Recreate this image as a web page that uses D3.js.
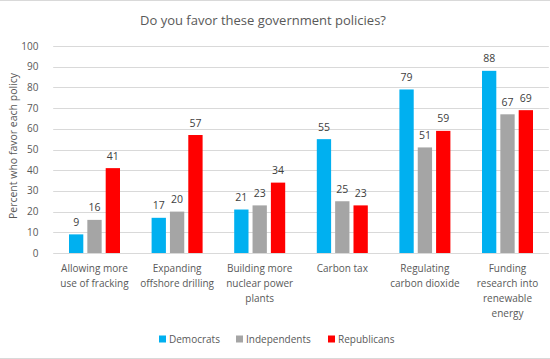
<!DOCTYPE html>
<html><head><meta charset="utf-8">
<script src="https://cdn.jsdelivr.net/npm/d3@7"></script>
<style>body{margin:0;background:#fff}svg{display:block;font-family:"Open Sans",sans-serif}</style>
</head><body><svg id="c" width="550" height="359"></svg>
<script>
const categories = ["Allowing more use of fracking","Expanding offshore drilling","Building more nuclear power plants","Carbon tax","Regulating carbon dioxide","Funding research into renewable energy"];
const categoryLines = [["Allowing more","use of fracking"],["Expanding","offshore drilling"],["Building more","nuclear power","plants"],["Carbon tax"],["Regulating","carbon dioxide"],["Funding","research into","renewable","energy"]];
const seriesNames = ["Democrats","Independents","Republicans"];
const democrats = [9,17,21,55,79,88];
const independents = [16,20,23,25,51,67];
const republicans = [41,57,34,23,59,69];
const yTicks = [0,10,20,30,40,50,60,70,80,90,100];
const colors = ["#00B0F0","#A5A5A5","#FF0000"];
const seriesValues = [democrats, independents, republicans];

const svg = d3.select("#c");
const W = 550, H = 359;
const pLeft = 53.2, pRight = 548.8, pTop = 46, pBottom = 253;

svg.append("line").attr("x1",0).attr("x2",W).attr("y1",0.5).attr("y2",0.5).attr("stroke","#D9D9D9");
svg.append("line").attr("x1",0).attr("x2",W).attr("y1",358.5).attr("y2",358.5).attr("stroke","#D9D9D9");

const x = d3.scaleBand().domain(categories).range([pLeft,pRight]).paddingInner(0).paddingOuter(0);
const bw = x.bandwidth();
const xs = d3.scaleBand().domain(seriesNames).range([(bw-51)/2,(bw+51)/2]).paddingInner(0.22).paddingOuter(0);
const y = d3.scaleLinear().domain([0,100]).range([pBottom,pTop]);

// gridlines
svg.append("g").selectAll("line").data(yTicks).join("line")
  .attr("x1",pLeft).attr("x2",pRight)
  .attr("y1",d=>Math.round(y(d))+0.5).attr("y2",d=>Math.round(y(d))+0.5)
  .attr("stroke","#D9D9D9").attr("stroke-width",1);

// y tick labels
svg.append("g").selectAll("text").data(yTicks).join("text")
  .attr("x",38.5).attr("y",d=>y(d)).attr("dy","0.35em")
  .attr("text-anchor","end").attr("font-size",10).attr("fill","#595959")
  .text(d=>d);

// bars
const groups = svg.append("g").selectAll("g").data(categories).join("g")
  .attr("transform",d=>`translate(${x(d)},0)`);
seriesNames.forEach((s,si)=>{
  groups.append("rect")
    .attr("x",xs(s)).attr("width",xs.bandwidth())
    .attr("y",(d,i)=>y(seriesValues[si][i]))
    .attr("height",(d,i)=>y(0)-y(seriesValues[si][i]))
    .attr("fill",colors[si]);
  groups.append("text")
    .attr("x",xs(s)+xs.bandwidth()/2)
    .attr("y",(d,i)=>y(seriesValues[si][i])-8.5)
    .attr("text-anchor","middle").attr("font-size",10.5).attr("fill","#404040")
    .text((d,i)=>seriesValues[si][i]);
});

// category labels
groups.each(function(d,i){
  const g = d3.select(this);
  categoryLines[i].forEach((ln,li)=>{
    g.append("text").attr("x",bw/2).attr("y",272+li*15)
      .attr("text-anchor","middle").attr("font-size",10).attr("fill","#595959").text(ln);
  });
});

// title
svg.append("text").attr("x",263).attr("y",25).attr("text-anchor","middle")
  .attr("font-size",13).attr("fill","#595959").text("Do you favor these government policies?");

// y axis title
svg.append("text").attr("transform","translate(17,146) rotate(-90)")
  .attr("text-anchor","middle").attr("font-size",10.5).attr("fill","#595959")
  .text("Percent who favor each policy");

// legend
const legX = [159,236,328];
const leg = svg.append("g").selectAll("g").data(seriesNames).join("g")
  .attr("transform",(d,i)=>`translate(${legX[i]},335.5)`);
leg.append("rect").attr("width",7).attr("height",7).attr("fill",(d,i)=>colors[i]);
leg.append("text").attr("x",10).attr("y",3.5).attr("dy","0.35em")
  .attr("font-size",10).attr("fill","#595959").text(d=>d);
</script></body></html>
